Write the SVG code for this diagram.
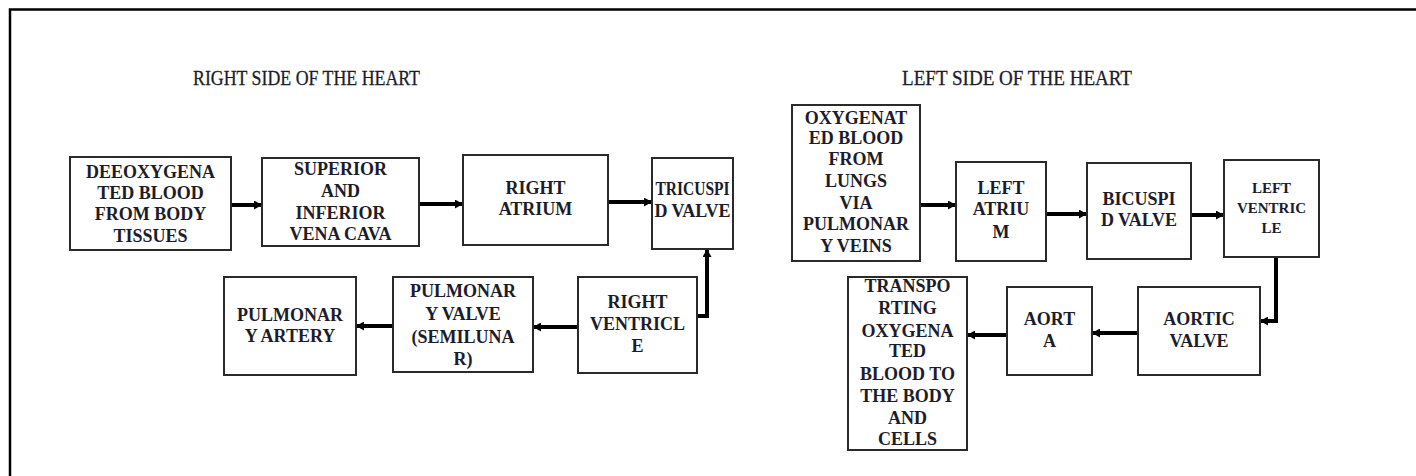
<svg xmlns="http://www.w3.org/2000/svg" width="1416" height="476" viewBox="0 0 1416 476">
<defs>
<style>
.box{fill:#fff;stroke:#2a2a2a;stroke-width:2}
.t{font-family:"Liberation Serif","Times New Roman",serif;font-weight:bold;font-size:18px;fill:#1c1c2a;text-anchor:middle}
.s{font-size:15px}
.title{font-family:"Liberation Serif","Times New Roman",serif;font-size:21px;fill:#1c1c2a;stroke:#1c1c2a;stroke-width:0.3}
.c{fill:none;stroke:#000;stroke-width:4;marker-end:url(#ah)}
.frame{stroke:#000;stroke-width:2.5;fill:none}
</style>
<marker id="ah" markerUnits="userSpaceOnUse" markerWidth="9" markerHeight="9" refX="8" refY="4.5" orient="auto">
<path d="M0,0 L8,4.5 L0,9 z" fill="#000"/>
</marker>
</defs>
<rect width="1416" height="476" fill="#fff"/>
<path class="frame" d="M10,476 V9.5 H1416"/>
<text class="title" x="193" y="85" textLength="227" lengthAdjust="spacingAndGlyphs">RIGHT SIDE OF THE HEART</text>
<text class="title" x="902" y="85" textLength="230" lengthAdjust="spacingAndGlyphs">LEFT SIDE OF THE HEART</text>

<g id="connectors">
<path class="c" d="M231,205 H262"/>
<path class="c" d="M419,204 H463"/>
<path class="c" d="M608,202 H652"/>
<path class="c" d="M697,316 H707 V249"/>
<path class="c" d="M578,327 H533"/>
<path class="c" d="M393,326 H356"/>
<path class="c" d="M920,205 H956"/>
<path class="c" d="M1046,214 H1087"/>
<path class="c" d="M1191,215 H1224"/>
<path class="c" d="M1276,257 V321 H1260"/>
<path class="c" d="M1138,333 H1092"/>
<path class="c" d="M1007,335 H967"/>
</g>

<g id="deoxygenated">
<rect class="box" x="70" y="157" width="161" height="93"/>
<text class="t"><tspan x="150.5" y="178">DEEOXYGENA</tspan><tspan x="150.5" y="199">TED BLOOD</tspan><tspan x="150.5" y="220">FROM BODY</tspan><tspan x="150.5" y="242">TISSUES</tspan></text>
</g>
<g id="vena-cava">
<rect class="box" x="262" y="158" width="157" height="88"/>
<text class="t"><tspan x="340.5" y="175">SUPERIOR</tspan><tspan x="340.5" y="197">AND</tspan><tspan x="340.5" y="219">INFERIOR</tspan><tspan x="340.5" y="240">VENA CAVA</tspan></text>
</g>
<g id="right-atrium">
<rect class="box" x="463" y="155" width="145" height="90"/>
<text class="t"><tspan x="535.5" y="194">RIGHT</tspan><tspan x="535.5" y="215">ATRIUM</tspan></text>
</g>
<g id="tricuspid">
<rect class="box" x="652" y="158" width="81" height="91"/>
<text class="t"><tspan x="692.5" y="195" textLength="74" lengthAdjust="spacingAndGlyphs">TRICUSPI</tspan><tspan x="692.5" y="217">D VALVE</tspan></text>
</g>
<g id="right-ventricle">
<rect class="box" x="578" y="277" width="119" height="96"/>
<text class="t"><tspan x="637.5" y="308">RIGHT</tspan><tspan x="637.5" y="330">VENTRICL</tspan><tspan x="637.5" y="352">E</tspan></text>
</g>
<g id="pulmonary-valve">
<rect class="box" x="393" y="277" width="140" height="95"/>
<text class="t"><tspan x="463" y="297">PULMONAR</tspan><tspan x="463" y="320">Y VALVE</tspan><tspan x="463" y="343">(SEMILUNA</tspan><tspan x="463" y="365">R)</tspan></text>
</g>
<g id="pulmonary-artery">
<rect class="box" x="224" y="277" width="132" height="98"/>
<text class="t"><tspan x="290" y="321">PULMONAR</tspan><tspan x="290" y="342">Y ARTERY</tspan></text>
</g>

<g id="oxygenated">
<rect class="box" x="792" y="105" width="128" height="156"/>
<text class="t"><tspan x="856" y="124">OXYGENAT</tspan><tspan x="856" y="144">ED BLOOD</tspan><tspan x="856" y="165">FROM</tspan><tspan x="856" y="187">LUNGS</tspan><tspan x="856" y="209">VIA</tspan><tspan x="856" y="230">PULMONAR</tspan><tspan x="856" y="252">Y VEINS</tspan></text>
</g>
<g id="left-atrium">
<rect class="box" x="956" y="162" width="90" height="99"/>
<text class="t"><tspan x="1001" y="194">LEFT</tspan><tspan x="1001" y="215">ATRIU</tspan><tspan x="1001" y="238">M</tspan></text>
</g>
<g id="bicuspid">
<rect class="box" x="1087" y="163" width="104" height="96"/>
<text class="t"><tspan x="1139" y="205">BICUSPI</tspan><tspan x="1139" y="226">D VALVE</tspan></text>
</g>
<g id="left-ventricle">
<rect class="box" x="1224" y="160" width="95" height="97"/>
<text class="t s"><tspan x="1271.5" y="193">LEFT</tspan><tspan x="1271.5" y="213">VENTRIC</tspan><tspan x="1271.5" y="233">LE</tspan></text>
</g>
<g id="aortic-valve">
<rect class="box" x="1138" y="287" width="122" height="88"/>
<text class="t"><tspan x="1199" y="325">AORTIC</tspan><tspan x="1199" y="347">VALVE</tspan></text>
</g>
<g id="aorta">
<rect class="box" x="1007" y="287" width="85" height="88"/>
<text class="t"><tspan x="1049.5" y="325">AORT</tspan><tspan x="1049.5" y="347">A</tspan></text>
</g>
<g id="transporting">
<rect class="box" x="848" y="277" width="119" height="173"/>
<text class="t"><tspan x="907.5" y="292">TRANSPO</tspan><tspan x="907.5" y="314">RTING</tspan><tspan x="907.5" y="337">OXYGENA</tspan><tspan x="907.5" y="357">TED</tspan><tspan x="907.5" y="380">BLOOD TO</tspan><tspan x="907.5" y="402">THE BODY</tspan><tspan x="907.5" y="424">AND</tspan><tspan x="907.5" y="445">CELLS</tspan></text>
</g>
</svg>
